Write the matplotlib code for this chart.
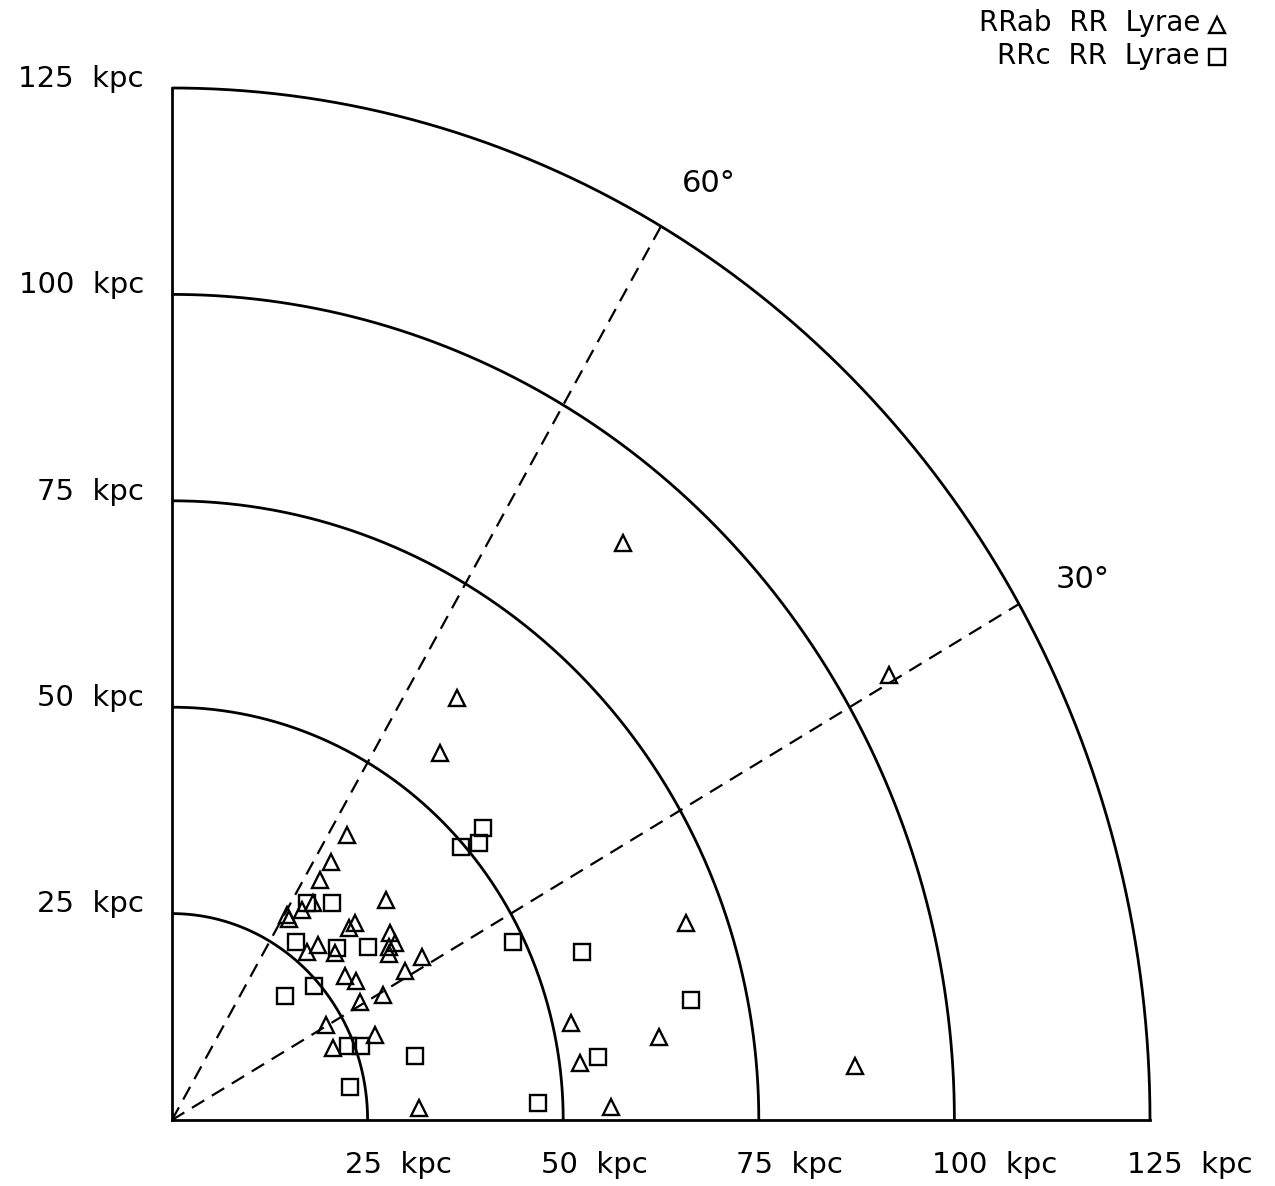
import numpy as np
import matplotlib.pyplot as plt

# rings and spokes of the quarter-circle grid
radii = [25, 50, 75, 100, 125]
spoke_angles = [30, 60]

# RRab RR Lyrae positions (kpc)
rrab_x = [22.4, 20.3, 18.9, 18.0, 16.6, 15.0, 14.7, 27.4, 23.4, 22.6,
          27.9, 28.5, 27.7, 27.7, 18.6, 17.2, 20.8, 31.9, 29.8, 22.1,
          23.5, 27.0, 24.0, 19.7, 25.9, 20.6, 31.6, 36.4, 34.3, 65.7,
          51.0, 62.2, 52.2, 56.1, 87.3, 57.7, 91.7]
rrab_y = [34.5, 31.3, 29.1, 26.3, 25.4, 24.4, 24.8, 26.6, 23.9, 23.3,
          22.6, 21.4, 21.0, 20.1, 21.2, 20.4, 20.2, 19.7, 18.0, 17.4,
          16.8, 15.1, 14.3, 11.5, 10.3, 8.7, 1.5, 51.1, 44.4, 23.9,
          11.7, 10.1, 6.9, 1.6, 6.6, 69.9, 53.9]

# RRc RR Lyrae positions (kpc)
rrc_x = [37.0, 39.2, 39.7, 17.3, 20.4, 15.8, 21.1, 25.0, 18.1, 14.4,
         22.5, 24.1, 31.1, 22.8, 43.6, 52.4, 66.3, 54.4, 46.8]
rrc_y = [33.1, 33.6, 35.4, 26.3, 26.3, 21.5, 20.8, 20.9, 16.2, 15.0,
         9.0, 9.0, 7.8, 4.0, 21.5, 20.4, 14.5, 7.6, 2.0]

W, H = 1275, 1186
fig = plt.figure(figsize=(W / 100, H / 100), dpi=100)
ax = fig.add_axes([172 / W, 66 / H, 978 / W, 1032 / H])
ax.set_xlim(0, 125)
ax.set_ylim(0, 125)
ax.axis('off')

theta = np.linspace(0, np.pi / 2, 400)
for r in radii:
    ax.plot(r * np.cos(theta), r * np.sin(theta), color='black', lw=2.0,
            clip_on=False, solid_capstyle='butt')
ax.plot([0, 125], [0, 0], color='black', lw=2.0, clip_on=False)
ax.plot([0, 0], [0, 125], color='black', lw=2.0, clip_on=False)

for a in spoke_angles:
    t = np.radians(a)
    ax.plot([0, 125 * np.cos(t)], [0, 125 * np.sin(t)], color='black',
            lw=1.6, dashes=(6.5, 4), clip_on=False)

mk = dict(ls='none', mfc='none', mec='black', mew=1.7, ms=11.2, clip_on=False)
ax.plot(rrab_x, rrab_y, marker='^', **mk)
ax.plot(rrc_x, rrc_y, marker='s', **mk)

for r in radii:
    ax.text(r - 2.9, -6.4, f'{r}  kpc', ha='left', va='baseline', fontsize=21)
    ax.text(-3.6, r + 0.15, f'{r}  kpc', ha='right', va='baseline', fontsize=21)

ax.text(65.2, 112.4, '60°', ha='left', va='baseline', fontsize=22)
ax.text(112.9, 64.4, '30°', ha='left', va='baseline', fontsize=22)

# legend in the top right corner
fig.text(1200 / W, 1 - 31 / H, 'RRab  RR  Lyrae', ha='right', va='baseline', fontsize=20)
fig.text(1200 / W, 1 - 64 / H, 'RRc  RR  Lyrae', ha='right', va='baseline', fontsize=20)
ax.plot([1217 / W], [1 - 25 / H], marker='^', transform=fig.transFigure, **mk)
ax.plot([1217 / W], [1 - 57 / H], marker='s', transform=fig.transFigure, **mk)

fig.savefig('out.png', dpi=100)
